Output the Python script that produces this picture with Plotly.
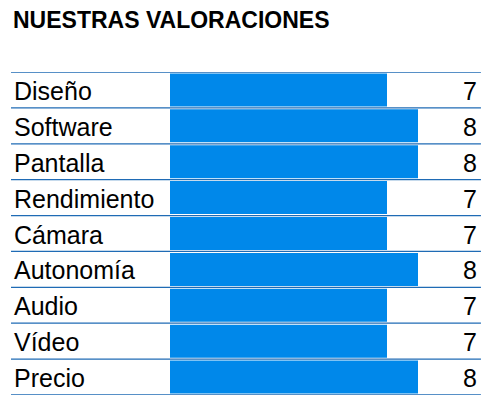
import plotly.graph_objects as go

categorias = ["Diseño", "Software", "Pantalla", "Rendimiento", "Cámara",
              "Autonomía", "Audio", "Vídeo", "Precio"]
valores = [7, 8, 8, 7, 7, 8, 7, 7, 8]
titulo = "NUESTRAS VALORACIONES"

# la pagina deja 8 px de margen en el body (arriba e izquierda)
OFF = 8
W, H = 499 - OFF, 405 - OFF
L, R, T, B = 170 - OFF, 19, 71.5 - OFF, 10
ancho = W - L - R
alto = H - T - B

fig = go.Figure(go.Bar(
    x=valores, y=categorias, orientation="h",
    marker=dict(color="#0088EA", line=dict(width=0)),
    hoverinfo="skip",
))

fuente = "Liberation Sans, Arial, sans-serif"

# etiquetas de categoria a la izquierda y valores a la derecha
anots = []
for cat, v in zip(categorias, valores):
    anots.append(dict(x=-(L - (12 - OFF)) / ancho, y=cat, xref="paper", yref="y",
                      text=cat, showarrow=False, xanchor="left", yshift=-1,
                      font=dict(size=25, color="black", family=fuente)))
    anots.append(dict(x=1, y=cat, xref="paper", yref="y", xshift=-1, yshift=-1,
                      text=str(v), showarrow=False, xanchor="right",
                      font=dict(size=25, color="black", family=fuente)))
anots.append(dict(x=-(L - (11 - OFF)) / ancho, y=1 + (T - (19 - OFF)) / alto,
                  xref="paper", yref="paper", text="<b>" + titulo + "</b>",
                  showarrow=False, xanchor="left", yanchor="middle",
                  font=dict(size=23, color="black", family=fuente)))

# lineas separadoras
lineas = []
for i in range(len(categorias) + 1):
    lineas.append(dict(type="line", xref="paper", yref="y",
                       x0=-(L - (11 - OFF)) / ancho, x1=1.003, y0=i - 0.5, y1=i - 0.5,
                       line=dict(color="#1F6BB5", width=1.3), layer="above"))

fig.update_layout(
    width=W, height=H,
    margin=dict(l=L, r=R, t=T, b=B),
    plot_bgcolor="white", paper_bgcolor="white",
    bargap=0.08, showlegend=False,
    xaxis=dict(range=[0, 10], visible=False, fixedrange=True),
    yaxis=dict(range=[8.5, -0.5], visible=False, fixedrange=True,
               categoryorder="array", categoryarray=categorias),
    annotations=anots, shapes=lineas,
)

fig.write_html("out.html")
